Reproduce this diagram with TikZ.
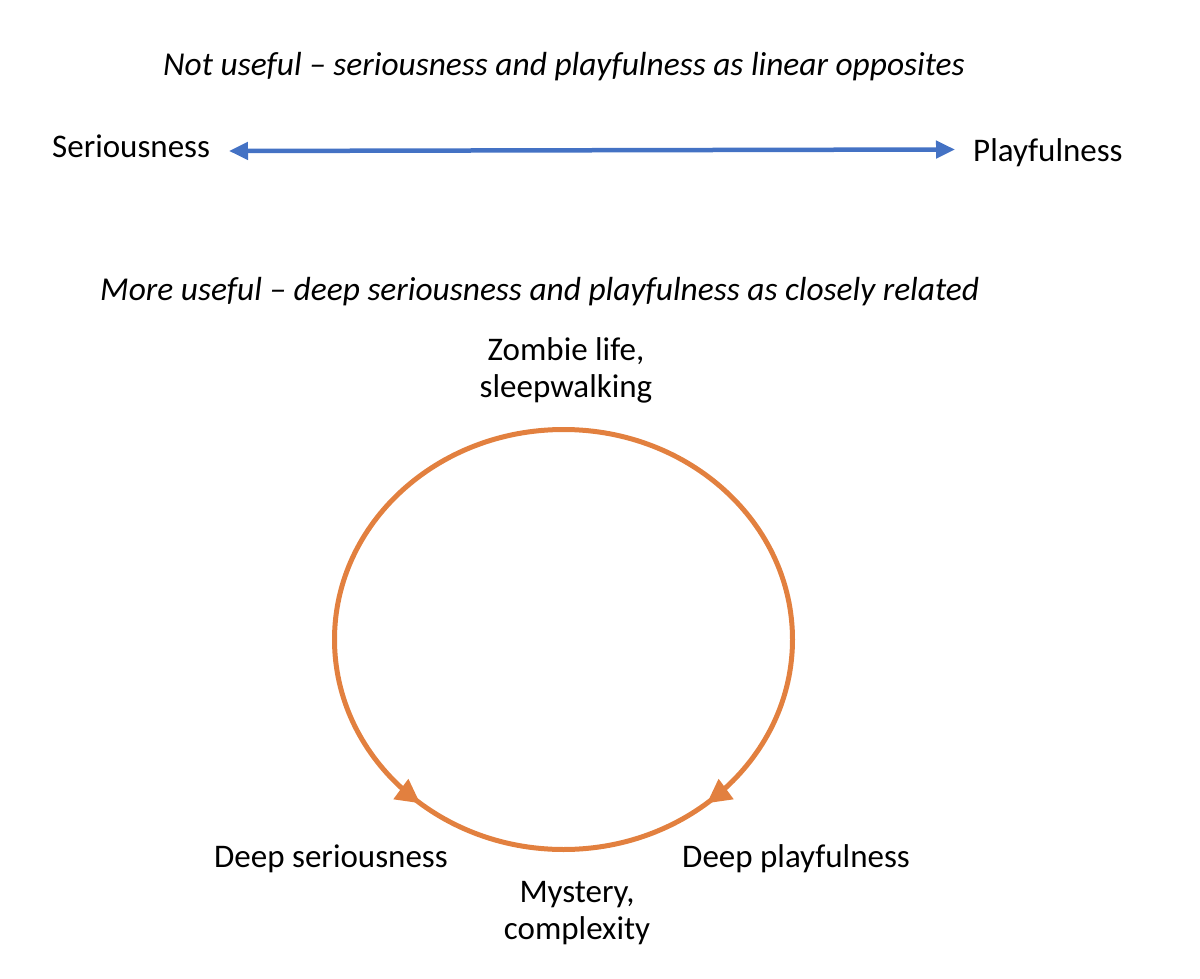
\documentclass[tikz,border=0pt]{standalone}
\usepackage{fontspec}
\setmainfont{Carlito}
\usetikzlibrary{arrows.meta,decorations.markings}
\definecolor{officeblue}{HTML}{4472C4}
\definecolor{officeorange}{HTML}{E2803F}
\tikzset{
  lbl/.style={inner sep=0pt, font=\fontsize{33}{37}\selectfont, text=black},
  ttl/.style={lbl, font=\fontsize{33.4}{37}\selectfont\itshape},
  bluearrow/.style={draw=officeblue, line width=4.5pt,
    {Triangle[length=19pt,width=17pt]}-{Triangle[length=19pt,width=17pt]}},
  ring/.style={draw=officeorange, line width=5pt},
}
\begin{document}
\begin{tikzpicture}[x=1pt,y=-1pt]
\useasboundingbox (0,0) rectangle (1200,979);
% titles
\node[ttl, anchor=base west] (t1) at (163,76) {Not useful -- seriousness and playfulness as linear opposites};
\node[ttl, anchor=base west] (t2) at (100,300) {More useful -- deep seriousness and playfulness as closely related};
% linear
\node[lbl, anchor=base west] (ser) at (52,158) {Seriousness};
\node[lbl, anchor=base west] (play) at (973,162) {Playfulness};
\coordinate (al) at (229,151);
\coordinate (ar) at (955,149.5);
\draw[bluearrow] (al) -- (ar);
% ring
\coordinate (c) at (563.5,639.5);
\draw[ring, postaction={decorate}, decoration={markings,
   mark=at position 0.139 with {\arrow{Triangle[length=24pt,width=24pt]}},
   mark=at position 0.361 with {\arrowreversed{Triangle[length=24pt,width=24pt]}}}]
   (c) ellipse [x radius=229, y radius=210];
\node[lbl, align=center, anchor=north] (zom) at (566,337) {Zombie life,\\sleepwalking};
\node[lbl, anchor=base west] (ds) at (214,867) {Deep seriousness};
\node[lbl, anchor=base west] (dp) at (682,867) {Deep playfulness};
\node[lbl, align=center, anchor=north] (mys) at (577,881) {Mystery,\\complexity};
\end{tikzpicture}
\end{document}
